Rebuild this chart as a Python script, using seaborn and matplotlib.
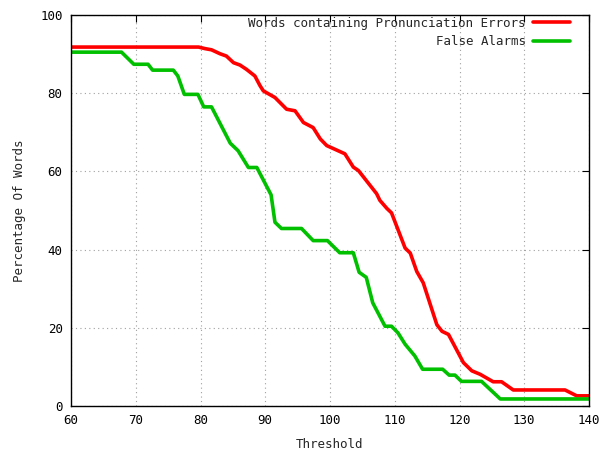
import matplotlib
matplotlib.use("Agg")
import matplotlib.pyplot as plt
import seaborn as sns
import pandas as pd

red_x = [60, 79.7, 80.7, 81.7, 83, 84, 85.1, 86.1, 87.1, 88.4, 89.2, 89.7, 91.5, 93.3, 94.6, 95.9,
         97.4, 98.5, 99.5, 102.3, 103.6, 104.4, 107.2, 107.7, 108.8, 109.5, 111.6, 112.4, 113.4,
         114.4, 116.5, 117.3, 118.3, 120.6, 121.9, 123.2, 125.2, 126.5, 128.3, 136.3, 138.1, 140]
red_y = [91.8, 91.8, 91.4, 91.1, 90.1, 89.5, 87.8, 87.2, 86.1, 84.4, 81.9, 80.6, 78.9, 75.9, 75.5, 72.5,
         71.2, 68.3, 66.6, 64.5, 61.1, 60.2, 54.3, 52.6, 50.5, 49.4, 40.4, 39.1, 34.4,
         31.5, 20.8, 19.1, 18.3, 11.1, 9.0, 8.1, 6.2, 6.2, 4.1, 4.1, 2.6, 2.6]

green_x = [60, 67.8, 69.7, 71.9, 72.6, 75.8, 76.5, 77.5, 79.6, 80.5, 81.7, 84.6, 85.8, 87.4, 88.7,
           90.9, 91.5, 92.5, 95.6, 97.4, 99.6, 101.5, 103.6, 104.5, 105.6, 106.6, 108.5, 109.5,
           110.5, 111.6, 113.1, 114.3, 117.4, 118.4, 119.3, 120.3, 123.4, 126.3, 140]
green_y = [90.5, 90.5, 87.4, 87.4, 85.9, 85.9, 84.4, 79.7, 79.7, 76.5, 76.5, 67.2, 65.3, 61, 61,
           54, 47, 45.4, 45.4, 42.3, 42.3, 39.2, 39.2, 34.2, 32.9, 26.4, 20.4, 20.4,
           18.7, 15.8, 12.8, 9.4, 9.4, 7.9, 7.9, 6.3, 6.3, 1.8, 1.8]

series_names = ["Words containing Pronunciation Errors", "False Alarms"]
x_ticks = [60, 70, 80, 90, 100, 110, 120, 130, 140]
y_ticks = [0, 20, 40, 60, 80, 100]

df = pd.concat([
    pd.DataFrame({"Threshold": red_x, "Percentage": red_y, "series": series_names[0], "order": range(len(red_x))}),
    pd.DataFrame({"Threshold": green_x, "Percentage": green_y, "series": series_names[1], "order": range(len(green_x))}),
])

sns.set_style("white")
plt.rcParams["font.family"] = ["DejaVu Sans Mono"]

fig = plt.figure(figsize=(6.03, 4.51), dpi=100)
ax = fig.add_axes([71/603, 45/451, 518/603, 391/451])

sns.lineplot(data=df, x="Threshold", y="Percentage", hue="series", sort=False, estimator=None,
             palette={series_names[0]: "#ff0000", series_names[1]: "#00c000"},
             linewidth=2.6, ax=ax)

ax.set_xlim(60, 140)
ax.set_ylim(0, 100)
ax.set_xticks(x_ticks)
ax.set_yticks(y_ticks)
ax.set_xticklabels([str(t) for t in x_ticks])
ax.set_yticklabels([str(t) for t in y_ticks])
ax.grid(True, linestyle=(0, (1, 3)), color="#a0a0a0", linewidth=0.8)
ax.tick_params(direction="in", length=5, width=0.8, top=True, right=True, labelsize=9, colors="black", pad=6)
for s in ax.spines.values():
    s.set_visible(True)
    s.set_color("black")
    s.set_linewidth(1.0)

ax.set_xlabel("Threshold", fontsize=9, labelpad=8)
ax.set_ylabel("Percentage Of Words", fontsize=9, labelpad=10)

leg = ax.legend(loc="upper right", frameon=False, markerfirst=False, fontsize=9,
                handlelength=2.9, handletextpad=0.6, borderaxespad=0.3, labelspacing=0.45,
                bbox_to_anchor=(0.9796, 1.018))
for t in leg.get_texts():
    t.set_ha("right")
leg._legend_box.align = "right"

fig.savefig("out.png", dpi=100)
